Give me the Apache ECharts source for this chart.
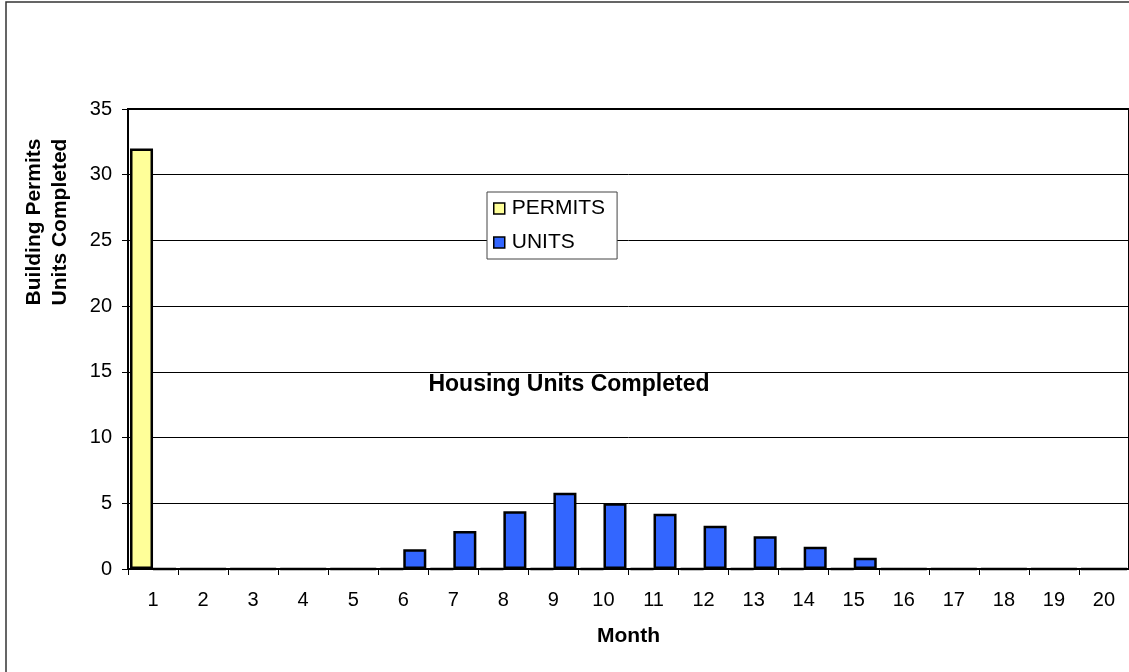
<!DOCTYPE html>
<html>
<head>
<meta charset="utf-8">
<script src="https://cdn.jsdelivr.net/npm/echarts@6/dist/echarts.min.js"></script>
<style>
  html, body { margin: 0; padding: 0; background: #fff; }
  #chart { width: 1129px; height: 672px; }
</style>
</head>
<body>
<div id="chart"></div>
<script>
// Months 1..20
const months = ['1','2','3','4','5','6','7','8','9','10','11','12','13','14','15','16','17','18','19','20'];
// Building permits issued (all in month 1)
const permits = [32, 0, 0, 0, 0, 0, 0, 0, 0, 0, 0, 0, 0, 0, 0, 0, 0, 0, 0, 0];
// Housing units completed per month
const units = [0, 0, 0, 0, 0, 1.5, 2.9, 4.4, 5.8, 5.0, 4.2, 3.3, 2.5, 1.7, 0.85, 0, 0, 0, 0, 0];
const yTicks = { min: 0, max: 35, interval: 5 };

const font = 'Arial, "Liberation Sans", sans-serif';
const chart = echarts.init(document.getElementById('chart'), null, { renderer: 'canvas' });

chart.setOption({
  animation: false,
  backgroundColor: '#fff',
  grid: { left: 128, top: 109, width: 1005, height: 460, show: true, borderColor: '#000', borderWidth: 2, backgroundColor: 'transparent' },
  legend: {
    orient: 'vertical',
    left: 487,
    top: 192,
    backgroundColor: '#fff',
    borderColor: '#444',
    borderWidth: 1,
    padding: [6, 12, 6, 6],
    itemWidth: 11,
    itemHeight: 11,
    itemGap: 13,
    icon: 'rect',
    textStyle: { fontFamily: font, fontSize: 21, color: '#000', padding: [0, 0, 0, 2] },
    itemStyle: { borderColor: '#000', borderWidth: 1.5 },
    data: ['PERMITS', 'UNITS']
  },
  xAxis: {
    type: 'category',
    data: months,
    boundaryGap: true,
    name: 'Month',
    nameLocation: 'middle',
    nameGap: 57,
    nameTextStyle: { fontFamily: font, fontSize: 21, fontWeight: 'bold', color: '#000' },
    axisLine: { lineStyle: { color: '#000', width: 2 } },
    axisTick: { show: true, alignWithLabel: false, length: 6, lineStyle: { color: '#000', width: 1 } },
    axisLabel: { fontFamily: font, fontSize: 20, color: '#000', margin: 21, interval: 0 },
    splitLine: { show: false }
  },
  yAxis: {
    type: 'value',
    min: yTicks.min,
    max: yTicks.max,
    interval: yTicks.interval,
    axisLine: { show: true, lineStyle: { color: '#000', width: 2 } },
    axisTick: { show: true, length: 6, lineStyle: { color: '#000', width: 1 } },
    axisLabel: { fontFamily: font, fontSize: 20, color: '#000', margin: 16 },
    splitLine: { show: true, lineStyle: { color: '#000', width: 1 } }
  },
  series: [
    {
      name: 'PERMITS',
      type: 'bar',
      data: permits,
      barGap: '0%',
      barCategoryGap: '8%',
      itemStyle: { color: '#FFFF99', borderColor: '#000', borderWidth: 2.5 }
    },
    {
      name: 'UNITS',
      type: 'bar',
      data: units,
      barGap: '0%',
      barCategoryGap: '8%',
      itemStyle: { color: '#3366FF', borderColor: '#000', borderWidth: 2.5 }
    }
  ],
  graphic: [
    {
      type: 'rect',
      silent: true,
      z: -10,
      shape: { x: 6, y: 2, width: 1300, height: 900 },
      style: { fill: 'none', stroke: '#333', lineWidth: 1.5 }
    },
    {
      type: 'text',
      x: 47,
      y: 222,
      rotation: Math.PI / 2,
      style: {
        text: 'Building Permits\nUnits Completed',
        font: 'bold 21px ' + font,
        fill: '#000',
        align: 'center',
        verticalAlign: 'middle',
        lineHeight: 26
      }
    },
    {
      type: 'text',
      x: 569,
      y: 385,
      z: 10,
      style: {
        text: 'Housing Units Completed',
        font: 'bold 23px ' + font,
        fill: '#000',
        align: 'center',
        verticalAlign: 'middle'
      }
    }
  ]
});
</script>
</body>
</html>
